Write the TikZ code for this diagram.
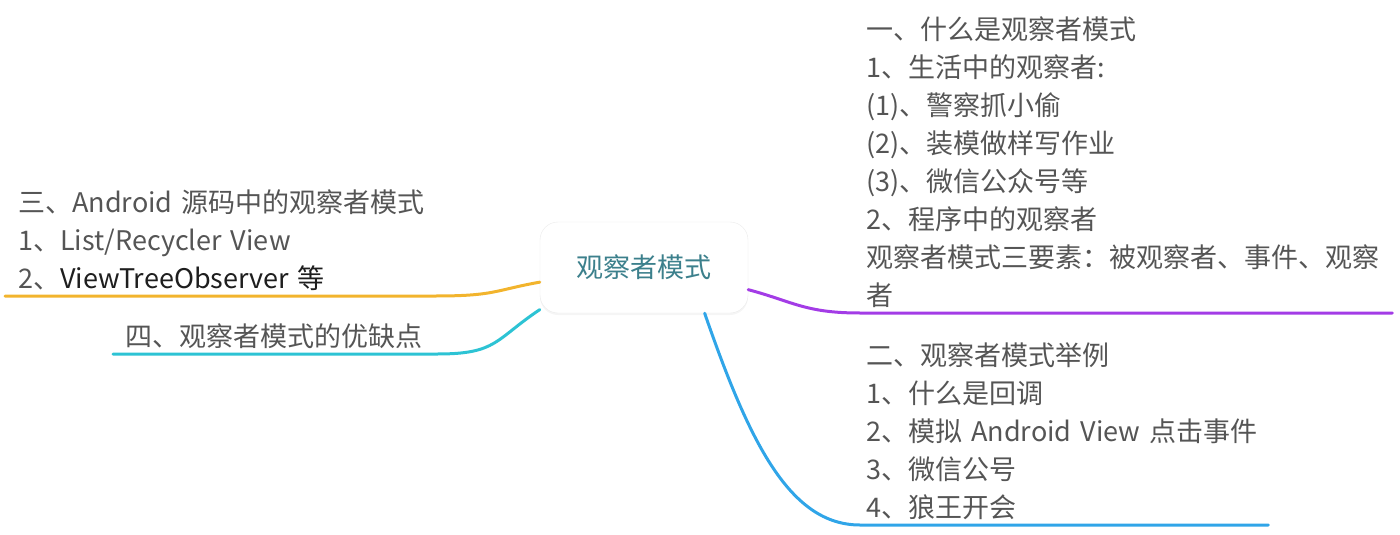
\documentclass[tikz,border=0pt]{standalone}
\usepackage{fontspec}
\setmainfont{Noto Sans CJK SC}
\usepackage{tikz}
\usetikzlibrary{shadows}
\definecolor{topicgray}{RGB}{85,85,85}
\definecolor{topicdark}{RGB}{30,30,30}
\definecolor{rootteal}{RGB}{60,128,140}
\definecolor{brpurple}{RGB}{163,60,230}
\definecolor{brblue}{RGB}{48,165,232}
\definecolor{brorange}{RGB}{242,180,45}
\definecolor{brcyan}{RGB}{45,195,212}
\tikzset{
  root/.style     = {rectangle, rounded corners=18pt, draw=black!8, fill=white,
                     minimum width=208pt, minimum height=91pt,
                     font=\fontsize{27}{38}\selectfont, text=rootteal,
                     drop shadow={opacity=0.08, shadow xshift=0pt, shadow yshift=-2pt}},
  topic/.style    = {anchor=south west, align=left, text width=#1,
                     inner xsep=6pt, inner ysep=5pt,
                     font=\fontsize{27}{38}\selectfont, text=topicgray},
  topic/.default  = 300pt,
  branch/.style   = {line width=3pt, line cap=round, color=#1},
}

\begin{document}
\begin{tikzpicture}[x=1pt, y=-1pt]
  \useasboundingbox (0,0) rectangle (1400,535);

  %─── Central topic ─────────────────────────────────────────────────────────
  \node[root] at (644, 267.5) (root) {观察者模式};

  %─── Right side topics ─────────────────────────────────────────────────────
  \node[topic=520pt] at (860, 313) (whatis) {一、什么是观察者模式\\
    1、生活中的观察者:\\
    (1)、警察抓小偷\\
    (2)、装模做样写作业\\
    (3)、微信公众号等\\
    2、程序中的观察者\\
    观察者模式三要素：被观察者、事件、观察\\
    者};
  \node[topic=396pt] at (860, 525) (examples) {二、观察者模式举例\\
    1、什么是回调\\
    2、模拟~Android~View~点击事件\\
    3、微信公号\\
    4、狼王开会};

  %─── Left side topics ──────────────────────────────────────────────────────
  \node[topic=404pt, inner xsep=13pt] at (5, 296) (android) {三、Android~源码中的观察者模式\\
    1、List/Recycler~View\\
    2、{\color{topicdark}ViewTreeObserver~等}};
  \node[topic=300pt, inner xsep=12pt] at (113, 354) (proscons) {四、观察者模式的优缺点};

  %─── Branches ──────────────────────────────────────────────────────────────
  % right
  \draw[branch=brpurple] (root.-12) .. controls +(45,12) and +(-55,0) .. (whatis.south west)
        -- (whatis.south east);
  \draw[branch=brblue] (root.-37) .. controls +(45,130) and +(-70,0) .. (examples.south west)
        -- (examples.south east);
  % left
  \draw[branch=brorange] (root.188) .. controls +(-45,8) and +(60,0) .. (android.south east)
        -- (android.south west);
  \draw[branch=brcyan] (root.202) .. controls +(-45,30) and +(60,0) .. (proscons.south east)
        -- (proscons.south west);

\end{tikzpicture}
\end{document}
